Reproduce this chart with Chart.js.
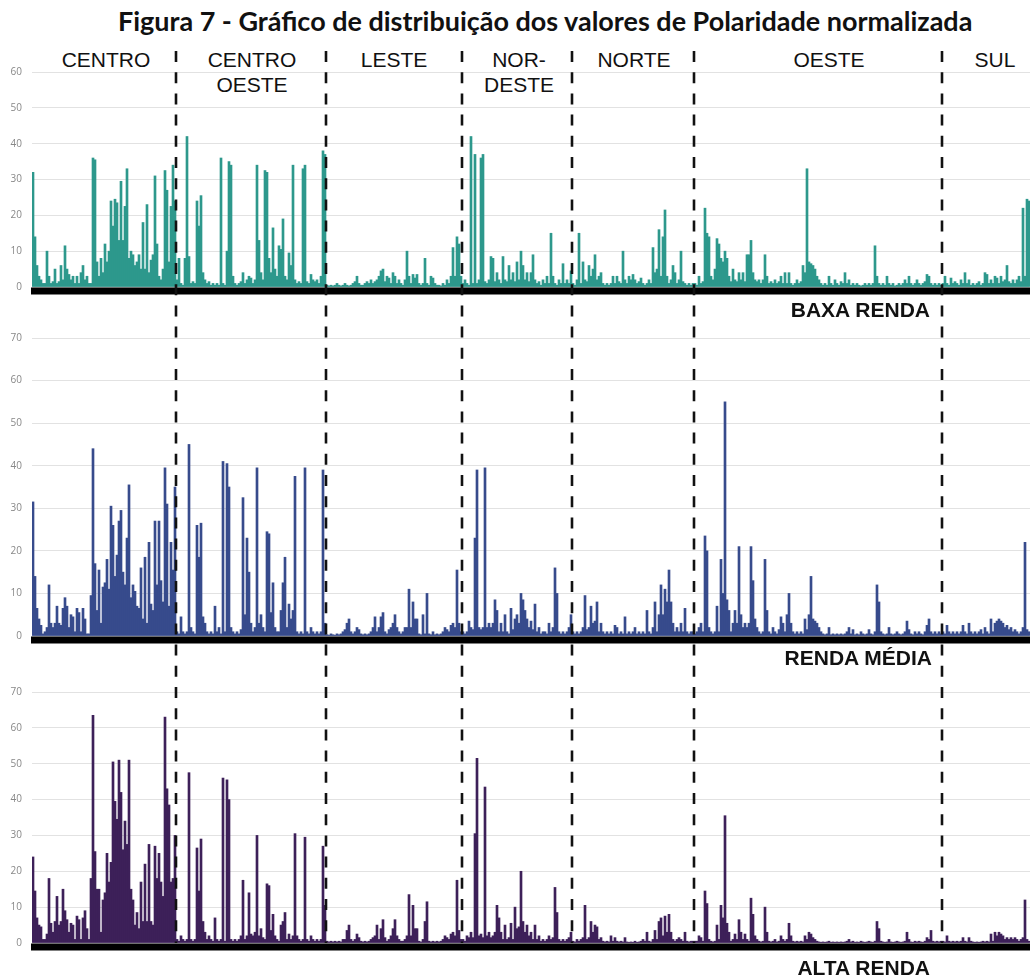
<!DOCTYPE html>
<html>
<head>
<meta charset="utf-8">
<script src="https://cdn.jsdelivr.net/npm/chart.js@4.4.1/dist/chart.umd.min.js"></script>
<style>
    body { margin: 0; width: 1030px; height: 979px; background: #fff; position: relative; overflow: hidden; font-family: "Liberation Sans", Arial, sans-serif; }
    canvas { position: absolute; left: 0; }
    .txt { position: absolute; white-space: nowrap; color: #111; }
    #titulo { left: 118px; top: 4px; font: bold 24px Lato, sans-serif; line-height: 34px; }
    .reg { font-size: 21px; line-height: 25px; text-align: center; width: 160px; margin-left: -80px; top: 47px; }
    .renda { font-weight: bold; font-size: 21px; line-height: 25px; right: 100px; }
</style>
</head>
<body>
<div class="txt" id="titulo">Figura 7 - Gráfico de distribuição dos valores de Polaridade normalizada</div>
<div class="txt reg" style="left:106px">CENTRO</div>
<div class="txt reg" style="left:252px">CENTRO<br>OESTE</div>
<div class="txt reg" style="left:394px">LESTE</div>
<div class="txt reg" style="left:519px">NOR-<br>DESTE</div>
<div class="txt reg" style="left:634px">NORTE</div>
<div class="txt reg" style="left:829px">OESTE</div>
<div class="txt reg" style="left:995px">SUL</div>

<canvas id="c1" width="1030" height="280" style="top:40px"></canvas>
<canvas id="c2" width="1030" height="340" style="top:320px"></canvas>
<canvas id="c3" width="1030" height="319" style="top:660px"></canvas>

<div class="txt renda" style="top:297px">BAXA RENDA</div>
<div class="txt renda" style="top:645px; right:98px">RENDA MÉDIA</div>
<div class="txt renda" style="top:955px">ALTA RENDA</div>

<script>
    var regioes = ["CENTRO", "CENTRO OESTE", "LESTE", "NORDESTE", "NORTE", "OESTE", "SUL"];

    // baixa renda - um valor por setor, agrupados por regiao
    var baixaCentro = [32, 14, 6, 3, 2, 1, 1, 10, 3, 1,
        1.5, 5, 1, 1.5, 6, 2, 11.5, 5, 3.5, 2,
        3, 1, 3, 1, 4, 6, 2, 3, 1, 1,
        36, 35.5, 7, 3, 8, 4, 12, 7, 10, 24,
        17, 24.5, 23.5, 13, 29.5, 13, 22.5, 33, 8, 10,
        9, 6, 7, 9, 5, 18, 5, 23, 4, 7.5,
        9, 31, 12, 3, 2, 5, 32.5, 27, 7, 22.5,
        34, 24];
    var baixaCentroOeste = [2, 8, 1, 0.5, 8, 42, 8.5, 1, 1.5, 1,
        24, 17, 25.5, 4, 2, 1, 1.5, 0.5, 1, 0.5,
        1, 0.5, 36, 1, 0.5, 10, 35, 34, 3, 1,
        0.5, 1, 1.5, 4, 1, 2, 3, 2.5, 1, 2,
        34, 13, 4, 2, 32.5, 32, 8, 4, 16.5, 5,
        3, 11.5, 10.5, 19, 3, 2, 9.5, 6, 34, 2,
        1, 1.5, 1, 33, 34, 1.5, 1, 3.5, 2, 1.5,
        2, 1, 3, 38, 37];
    var baixaLeste = [0.5, 0.3, 0.5, 0.3, 0.5, 1, 0.5, 0.3, 0.5, 1,
        0.5, 0.3, 0.5, 1, 1.5, 3, 1, 0.5, 0.5, 1,
        1.5, 1, 2, 1, 1.5, 2, 3, 4.5, 5, 1.5,
        3, 2.5, 1, 4, 3, 1, 2, 1, 0.5, 2,
        10, 3, 1, 3.5, 2.5, 3.5, 1, 0.5, 1, 8,
        1, 0.5, 3, 2.5, 1, 0.5, 0.5, 0.3, 1, 0.5,
        2, 1, 3, 11, 3, 14, 12, 3];
    var baixaNordeste = [1, 2, 1, 0.5, 42, 1, 37, 1, 2, 36,
        37, 1.5, 1, 2, 8.5, 8, 1.5, 4, 2, 1,
        8.5, 2, 1.5, 6, 2, 4, 1.5, 7, 2, 10,
        6, 2, 4, 1.5, 4, 9, 2, 1, 1.5, 0.5,
        2, 1, 3, 1, 15, 3, 1, 0.5, 2, 1,
        6.5, 1, 2, 1, 4.5];
    var baixaNorte = [1, 0.5, 2, 15, 1, 7, 2, 1.5, 6, 3,
        5, 9, 2, 3, 4, 1, 0.5, 1, 0.5, 1,
        3, 1, 3, 1.5, 1, 10, 2, 1, 3, 2,
        3.5, 2, 1, 1.5, 2.5, 1, 0.5, 1, 2, 1,
        11, 4, 5, 16, 3, 14, 21.5, 3, 1, 2,
        6, 4, 1, 2, 10, 1.5, 1, 0.5, 1, 0.5,
        1];
    var baixaOeste = [1, 0.5, 3, 1, 1.5, 22, 15, 14, 3, 2,
        5, 13.5, 12, 8, 7, 10, 8, 3, 1.5, 5,
        2, 1.5, 4, 2, 4, 1.5, 9, 9, 13, 4,
        2, 1.5, 2, 1, 2, 9, 3, 1, 1.5, 1,
        2, 1, 1.5, 3, 1, 4, 1, 4, 1, 0.5,
        1, 2, 1, 1.5, 6, 4, 33, 7, 6.5, 6,
        5, 3, 2, 1, 0.5, 1, 0.5, 3, 1, 0.5,
        2, 1, 0.5, 1.5, 1, 4, 1, 2, 0.5, 1,
        0.5, 1, 0.5, 0.3, 0.5, 1, 0.5, 1, 0.5, 1,
        11.5, 3, 1, 0.5, 1, 0.5, 3, 1, 0.5, 1,
        0.3, 0.5, 1, 0.5, 1, 2, 1, 3, 1, 0.5,
        1, 2, 1, 0.5, 1, 1.5, 3.5, 3, 1, 0.5,
        1, 0.5, 1, 0.5];
    var baixaSul = [1, 3, 1, 0.5, 2.5, 1, 1.5, 1, 0.5, 2,
        1, 4, 1, 2, 0.5, 1, 0.5, 1, 1.5, 0.5,
        1, 4, 3.5, 1, 2, 1, 3, 2.5, 1, 3,
        1.5, 2, 6, 1.5, 1, 2, 1, 2, 3, 1.5,
        22, 3, 24.5, 24];

    // renda media
    var mediaCentro = [31.5, 14, 6.5, 4, 2.5, 0.5, 1, 2, 12, 3,
        2, 3, 7, 3, 2.5, 6.5, 9, 7, 2, 5,
        4.5, 1, 6.5, 5.5, 1, 6.5, 4, 0.5, 0.5, 9.5,
        44, 17, 6, 15.5, 3, 11.5, 12.5, 18, 11, 30.5,
        26, 14, 19, 27, 29.5, 15, 12, 23, 35.5, 9,
        12, 10.5, 7, 6.5, 16, 4, 18.5, 3, 22, 7.5,
        6, 27, 12, 27, 13, 8, 39.5, 31, 7, 22,
        15.5, 35];
    var mediaCentroOeste = [1, 0.5, 4.5, 1, 0.5, 1, 45, 2, 1, 0.5,
        26, 18.5, 26.5, 4.5, 3, 1, 0.5, 1, 0.5, 7,
        1, 2, 0.5, 41, 1, 40.5, 35, 2, 1, 0.5,
        1, 0.5, 1.5, 32.5, 5, 23, 15, 3, 1, 2,
        39.5, 3, 5, 2, 1, 24.5, 24, 5.5, 12.5, 2,
        1, 1, 6, 12.5, 18.5, 2, 7.5, 4, 6, 37.5,
        1, 0.5, 1, 0.5, 39.5, 1, 0.5, 2, 1, 0.5,
        1, 0.5, 1, 39, 3];
    var mediaLeste = [0.3, 0.2, 0.5, 0.3, 0.2, 0.5, 0.3, 0.5, 1, 1.5,
        3, 4, 1, 0.5, 1, 2, 1.5, 0.5, 0.3, 0.5,
        0.3, 0.5, 1, 2, 4.5, 1, 2, 4.5, 5.5, 1,
        0.5, 1.5, 2, 3, 5, 2, 1, 0.5, 1, 2,
        2, 11, 2, 8, 4, 4, 0.5, 0.3, 5, 0.5,
        10, 0.5, 0.3, 1, 0.3, 0.5, 0.3, 0.5, 1, 2,
        1.5, 1, 2.5, 3, 2, 15.5, 3, 1];
    var mediaNordeste = [1, 0.5, 1, 3.5, 2, 1.5, 23, 39, 2, 1.5,
        2, 39.5, 2, 3, 2, 3, 8.5, 6, 1, 3,
        1, 5, 1, 0.5, 6.5, 1.5, 4, 5, 3, 10,
        8.5, 6, 4, 2, 3.5, 1.5, 7.5, 1, 2, 0.5,
        1, 1, 0.5, 3, 1, 2, 16, 10, 1, 0.5,
        1, 0.5, 1, 2, 5];
    var mediaNorte = [1, 0.5, 1, 0.5, 1, 2, 9.5, 1.5, 2, 7,
        3, 3.5, 8, 1, 3, 1, 0.5, 1, 0.5, 1,
        0.5, 2.5, 2, 0.5, 1, 0.5, 4.5, 0.5, 1, 0.5,
        1, 2, 0.5, 1, 0.5, 1, 0.5, 6, 1, 0.5,
        2, 8, 1, 5, 12, 5, 11, 8, 15.5, 8,
        3, 1, 2, 1, 3, 1, 6.5, 1, 0.5, 1,
        1];
    var mediaOeste = [0.5, 1, 2, 3, 1, 23.5, 20, 2, 1, 0.5,
        1, 7, 1, 18, 10, 55, 8.5, 6, 1, 3,
        6, 3, 21, 5, 2, 3, 2, 3, 21, 13,
        4, 2, 1, 0.5, 1, 18, 6, 1, 0.5, 2,
        1, 0.5, 1.5, 4.5, 3, 1, 5, 10, 3, 1,
        0.5, 1, 0.5, 1, 0.5, 4, 1.5, 5, 14, 4,
        3.5, 3, 2, 1, 0.5, 0.3, 0.5, 2, 0.3, 0.5,
        0.3, 0.5, 0.3, 0.5, 0.3, 0.5, 1, 2, 0.5, 1.5,
        0.3, 0.5, 0.3, 1, 0.5, 0.3, 0.5, 1.5, 0.5, 0.3,
        1, 12, 8, 1, 0.5, 0.3, 0.5, 2, 0.5, 0.3,
        0.5, 1, 0.5, 0.3, 0.5, 1, 3.5, 1.5, 0.5, 0.3,
        1, 0.5, 1, 0.5, 0.3, 1, 2.5, 4, 1, 0.5,
        1, 0.5, 1, 0.5];
    var mediaSul = [1, 0.5, 2.5, 1, 0.5, 1, 0.5, 1, 0.5, 1,
        2.5, 1, 0.5, 3, 1, 0.5, 1, 0.5, 1, 1.5,
        0.5, 2, 1, 0.5, 4, 1, 3, 3.5, 4, 3.5,
        3, 2, 2.5, 1.5, 2, 1, 1.5, 1, 0.5, 1,
        2, 22, 1.5, 1];

    // alta renda
    var altaCentro = [24, 14.5, 7, 5, 4.5, 1, 1, 2.5, 18, 5.5,
        3, 6, 13, 5, 6, 15, 9, 6.5, 3, 5.5,
        5, 1, 7.5, 6.5, 1, 7, 9, 4, 1, 18,
        63.5, 25.5, 15, 15, 3, 12, 14, 25, 17, 22.5,
        50.5, 39.5, 34.5, 51, 42, 26, 34, 27.5, 51, 15,
        12, 5, 8.5, 4, 17, 6, 22, 6, 27.5, 6,
        5, 27, 18, 25, 17, 13, 63, 43, 38.5, 17,
        18, 30];
    var altaCentroOeste = [1, 0.5, 2, 1, 0.5, 1, 47.5, 1, 0.5, 1,
        26.5, 14.5, 29, 6, 3, 1, 2, 1, 0.5, 7,
        1, 0.5, 1, 46, 0.5, 45.5, 40, 1, 0.5, 1,
        0.5, 1, 2, 17.5, 1, 2, 14, 2.5, 2, 3,
        30, 2, 4, 1.5, 1, 16.5, 16, 3.5, 8, 2,
        1, 0.5, 5, 6, 8.5, 1, 2.5, 1, 2, 30.5,
        2, 1, 0.5, 1, 29.5, 1, 0.5, 2, 1, 0.5,
        1, 0.5, 1, 27, 10.5];
    var altaLeste = [0.5, 0.3, 0.5, 0.3, 0.5, 0.3, 0.5, 0.3, 1, 1,
        3.5, 5, 1, 0.5, 1, 2.5, 1.5, 0.5, 0.3, 0.5,
        0.3, 0.5, 1, 1.5, 2, 5, 1, 4, 6.5, 1.5,
        0.5, 1, 2, 4, 6.5, 2, 1, 0.5, 0.5, 1,
        2, 13.5, 2, 10.5, 4, 4, 0.5, 0.3, 1, 6,
        11.5, 0.5, 0.3, 0.5, 0.3, 0.5, 0.3, 0.5, 1, 2,
        1.5, 1, 2.5, 3, 2, 17.5, 3.5, 1];
    var altaNordeste = [1, 0.5, 2, 1.5, 3, 1.5, 30.5, 51.5, 2, 2.5,
        1.5, 43.5, 2, 3, 1.5, 2, 3, 10.5, 7, 3,
        1, 5, 1, 1.5, 5.5, 1, 10, 4, 4.5, 20,
        6, 3, 5, 2, 3, 1, 5, 1, 2, 0.5,
        1, 0.5, 1, 2, 1, 1.5, 15.5, 8.5, 1, 0.5,
        1, 0.5, 1, 1.5, 3];
    var altaNorte = [0.5, 0.3, 1, 0.5, 1, 1.5, 10.5, 1, 1.5, 6,
        3, 5, 4.5, 1, 1.5, 0.5, 0.3, 0.5, 0.3, 2,
        0.5, 1.5, 0.5, 0.3, 0.5, 0.3, 1.5, 0.3, 0.2, 0.3,
        0.2, 0.5, 0.2, 0.3, 0.5, 1, 0.5, 3, 0.5, 0.3,
        1, 3.5, 1, 6, 7, 2, 7.5, 3, 8, 3,
        1, 0.5, 1, 1.5, 1, 0.5, 3, 0.5, 0.3, 0.5,
        0.5];
    var altaOeste = [0.5, 0.5, 2, 1.5, 0.5, 14.5, 11, 1, 0.5, 0.3,
        0.5, 5, 1, 10.5, 7, 35.5, 5.5, 3, 0.5, 1,
        2.5, 1, 6.5, 3, 1, 2.5, 1, 0.5, 12.5, 8,
        2, 1, 0.5, 0.3, 0.5, 10, 3, 0.5, 0.3, 0.5,
        1, 0.3, 0.5, 2, 1, 0.5, 1, 5.5, 2, 0.5,
        0.3, 0.5, 0.3, 0.5, 0.3, 2, 1, 3, 2.5, 1.5,
        1, 0.5, 0.3, 0.2, 0.3, 0.2, 0.3, 0.5, 0.2, 0.3,
        0.2, 0.3, 0.2, 0.3, 0.2, 0.3, 0.5, 1, 0.3, 0.5,
        0.2, 0.3, 0.2, 0.5, 0.3, 0.2, 0.3, 0.5, 0.3, 0.2,
        0.5, 6, 4, 0.5, 0.3, 0.2, 0.3, 1, 0.3, 0.2,
        0.3, 0.5, 0.3, 0.2, 0.3, 0.5, 3, 1, 0.3, 0.2,
        0.5, 0.3, 0.5, 0.3, 0.2, 0.5, 1.5, 1, 3.5, 0.5,
        0.3, 0.5, 0.3, 0.5];
    var altaSul = [0.5, 0.3, 2, 0.5, 0.3, 0.5, 0.3, 0.5, 0.3, 0.5,
        1.5, 0.5, 0.3, 1.5, 0.5, 0.3, 0.2, 0.3, 0.2, 0.3,
        0.5, 0.3, 0.5, 0.3, 2.5, 0.5, 3, 2, 3, 2.5,
        2, 1, 1.5, 1, 1.5, 1, 1.5, 1, 0.5, 1,
        1.5, 12, 1, 0.5];

    var maxBaixa = 60, maxMedia = 70, maxAlta = 70;

    // linhas tracejadas entre regioes + faixa preta da base
    var divisorias = {
        id: "divisorias",
        afterDraw: function (chart) {
            var op = chart.options.plugins.divisorias;
            var ctx = chart.ctx, x = chart.scales.x, area = chart.chartArea;
            ctx.save();
            ctx.fillStyle = "#000";
            ctx.fillRect(area.left - 1, area.bottom + 0.5, area.right - area.left + 1, 7);
            ctx.strokeStyle = "#111";
            ctx.lineWidth = 2.6;
            ctx.setLineDash([11, 10.2]);
            op.limites.forEach(function (b) {
                var px = Math.round((x.getPixelForValue(b - 1) + x.getPixelForValue(b)) / 2);
                ctx.beginPath();
                ctx.moveTo(px, 51 - op.topo);
                ctx.lineTo(px, 943 - op.topo);
                ctx.stroke();
            });
            ctx.restore();
        }
    };

    Chart.defaults.font.family = "'Open Sans', sans-serif";
    Chart.defaults.animation = false;

    function desenhar(id, grupos, cor, max, topo, pad) {
        var dados = [], limites = [];
        grupos.forEach(function (g, k) {
            if (k > 0) limites.push(dados.length);
            dados = dados.concat(g);
        });
        var labels = dados.map(function (v, i) { return i; });

        return new Chart(document.getElementById(id).getContext("2d"), {
            type: "bar",
            data: {
                labels: labels,
                datasets: [{
                    data: dados,
                    backgroundColor: cor,
                    borderWidth: 0,
                    barPercentage: 1,
                    categoryPercentage: 1
                }]
            },
            options: {
                responsive: false,
                layout: { padding: { top: pad[0], bottom: pad[1], left: 0, right: 0 } },
                plugins: {
                    legend: { display: false },
                    tooltip: { enabled: false },
                    divisorias: { limites: limites, topo: topo }
                },
                scales: {
                    x: { display: false },
                    y: {
                        min: 0,
                        max: max,
                        afterFit: function (s) { s.width = 32; },
                        border: { display: false },
                        grid: { color: "#e2e2e2", drawTicks: false },
                        ticks: { stepSize: 10, padding: 10, color: "#888", font: { size: 10 } }
                    }
                }
            },
            plugins: [divisorias]
        });
    }

    desenhar("c1", [baixaCentro, baixaCentroOeste, baixaLeste, baixaNordeste, baixaNorte, baixaOeste, baixaSul],
        "#2d988c", maxBaixa, 40, [32, 33]);
    desenhar("c2", [mediaCentro, mediaCentroOeste, mediaLeste, mediaNordeste, mediaNorte, mediaOeste, mediaSul],
        "#374b8c", maxMedia, 320, [18, 24]);
    desenhar("c3", [altaCentro, altaCentroOeste, altaLeste, altaNordeste, altaNorte, altaOeste, altaSul],
        "#3d2059", maxAlta, 660, [32, 36]);

    // ajusta o titulo para a largura do original
    var t = document.getElementById("titulo");
    var fs = 24 * 854 / t.offsetWidth;
    t.style.fontSize = fs.toFixed(2) + "px";
</script>
</body>
</html>
